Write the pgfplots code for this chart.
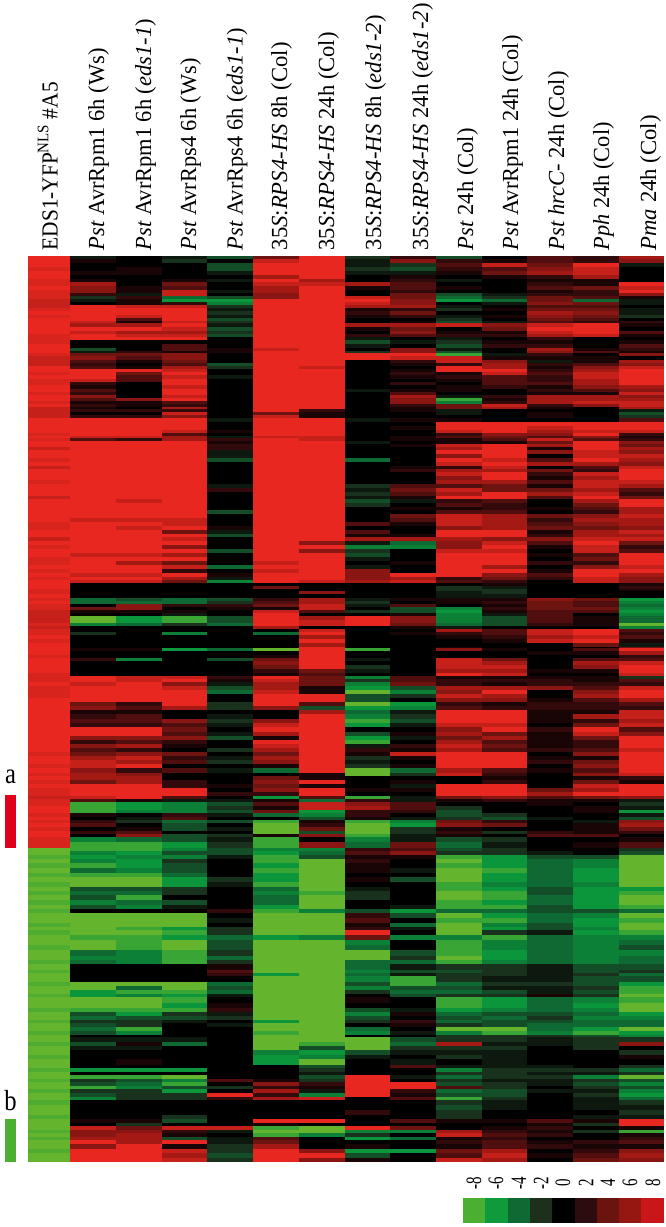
\documentclass[border=0pt]{standalone}
\usepackage{pgfplots}
\pgfplotsset{compat=1.18}
\usepackage{pgfplotstable}
\usepackage{fontspec}
\setmainfont{Liberation Serif}
\pgfplotstableread{
y a b c d e f g h i j k l m n
256 8 -1 0 -1 -3 4 8 -2 2 -3 0 3 2 6
259 8 1 0 -2 0 7 8 -1 5 2 1 3 2 5
263 8 0 0 0 -3 8 8 -1 -2 3 7 4 8 -1
267 7.5 0 1 0 -3 8 8 -2 -3 2 3 5 7 0
271 8 1 1 0 -1 8 8 -1 -1 1 4 6 7 0
275 8 0 0 0 0 6 8 0 1 0 1 2 6 0
279 7.5 1 0 1 -1 8 6 0 2 -1 0 1 1 0
282 7.5 6 0 4 0 7 7 6 3 0 0 2 1 8
286 8 5 1 3 0 6 8 1 3 1 0 3 4 7
290 7.5 5 1 7 -1 6 8 0 2 0 0 1 2 8
293 7.5 2 -1 7 0 5 8 0 4 -3 -1 2 2 5
296 7.5 -2 2 -4 -3 5 8 7 4 -4 -2 4 3 1
299 7 -1 1 -6 -6 8 8 8 5 -6 -4 4 -4 -1
302 7 0 1 2 -5 8 8 7 5 0 -1 5 4 -1
305 7 8 7 7 -2 8 8 6 6 -1 0 3 3 0
308 7.5 8 8 8 -1 8 8 1 2 -2 1 4 4 -1
311 8 8 8 8 -2 8 8 2 4 0 0 6 5 -1
315 7.5 8 7 8 -1 8 8 1 2 -1 1 5 4 -2
318 8 8 3 8 -3 8 8 0 0 -2 0 4 3 0
321 8 7 1 7 -2 8 8 0 1 -3 -1 3 2 2
323 8 6 6 8 -1 8 8 6 6 7 5 7 8 1
327 8 8 8 7 -3 8 8 1 4 0 4 8 8 0
331 8 7 6 6 -2 8 8 0 5 1 1 7 8 3
334 7.5 8 7 7 -3 8 8 2 3 2 2 6 7 1
337 7.5 8 8 8 0 8 8 -1 0 -1 0 2 0 0
340 7.5 0 0 0 0 8 8 -3 -1 -2 1 1 0 1
344 8 0 0 3 0 8 8 -1 0 -3 2 2 0 3
348 8 -3 0 3 1 7 8 0 5 -1 0 6 1 2
351 8 -1 2 1 1 8 8 -2 5 -3 0 5 3 1
353 7.5 4 4 5 0 8 8 8 8 -7 -1 2 0 5
356 7 5 3 5 0 8 8 8 7 7 1 1 1 0
360 7 3 1 4 0 8 8 0 2 7 5 -1 1 6
363 7 2 0 3 -3 8 8 0 1 2 6 2 3 5
366 8 3 1 6 -2 8 7 0 0 8 6 1 5 7
369 8 8 8 7 0 8 8 0 1 8 8 2 6 8
372 7.5 8 4 8 0 8 8 0 2 1 7 3 7 8
375 8 8 3 7 -1 8 8 0 1 2 3 2 7 8
379 7.5 7 3 8 0 8 8 0 0 1 3 2 6 8
382 7.5 2 0 8 0 8 8 0 2 0 3 3 6 8
385 8 1 0 7 0 8 8 0 0 1 2 1 5 6
389 8 3 0 8 0 8 8 -1 1 1 0 2 3 5
392 7.5 2 0 8 0 8 8 0 3 0 0 1 1 7
395 8 5 0 7 0 8 8 0 6 -1 2 6 6 5
398 8 3 5 8 0 8 8 0 5 -7 1 6 6 6
401 7.5 1 1 3 0 8 8 0 5 -5 2 6 7 7
404 8 2 1 2 0 8 8 0 2 4 7 2 5 7
407 7 1 0 6 0 8 8 0 1 4 6 1 0 6
409 7 2 2 2 0 8 2 0 1 -1 0 0 0 -1
412 7 0 0 7 0 4 1 0 0 -1 0 1 0 -3
415 7 2 2 5 0 7 1 0 0 0 0 1 0 -2
418 8 8 8 8 -1 8 8 -1 1 1 0 0 0 3
422 8 8 8 8 0 8 8 0 0 8 8 8 8 8
426 8 8 8 8 0 8 8 0 1 8 8 7 8 8
430 8 8 8 7 1 8 8 0 0 7 8 6 7 7
433 7.5 8 8 3 0 8 8 0 0 2 5 5 8 2
436 8 7 7 6 -1 7 7 0 1 3 4 3 5 1
438 7.5 3 2 6 2 8 7 0 1 1 3 7 3 2
441 8 8 8 8 1 8 8 -1 0 1 1 4 8 5
444 8 8 8 8 2 8 8 0 1 7 8 6 8 4
447 7 8 8 8 2 8 8 0 0 6 8 1 8 6
450 8 8 8 8 -1 8 8 0 0 8 8 5 7 5
454 8 8 8 8 -1 8 8 0 0 5 8 0 7 7
458 7.5 8 8 8 -3 8 8 -4 0 8 7 3 8 6
462 8 8 8 8 0 8 8 0 0 7 8 6 6 5
466 7 8 8 8 0 8 8 0 1 2 7 0 3 7
469 8 8 8 8 0 8 8 0 2 6 6 4 2 8
472 8 8 8 8 0 8 8 0 0 7 8 2 7 8
476 8 8 8 8 0 8 8 0 0 5 8 1 6 8
480 7.5 8 8 8 0 8 8 0 0 6 6 3 7 7
484 8 8 8 8 -1 8 8 -2 3 3 4 1 7 6
488 8 8 8 8 2 8 8 -1 4 7 4 4 6 3
492 8 8 8 8 0 8 8 -2 3 6 8 6 7 2
496 7 8 8 8 0 8 8 -1 1 8 8 3 8 4
499 8 8 7 8 0 8 8 -3 -1 2 3 0 6 8
503 8 8 8 8 0 8 8 -2 0 3 2 0 4 8
507 8 8 8 8 0 8 8 0 1 1 2 1 3 6
510 8 8 8 8 -3 8 8 0 0 3 3 0 2 6
514 8 8 8 8 0 8 8 0 4 7 6 4 5 7
518 8 7 7 7 0 8 8 0 3 7 6 2 6 6
522 7.5 8 8 7 0 8 8 3 1 7 6 3 5 6
526 7.5 8 7 8 1 8 8 0 0 5 6 4 4 5
530 8 8 8 4 -1 8 8 3 0 8 8 1 6 7
534 8 8 8 8 -3 8 8 1 1 8 8 2 6 6
537 7 8 8 7 0 8 8 6 6 6 5 5 7 7
541 8 8 8 8 0 8 5 -1 -4 5 7 3 8 4
545 7.5 8 8 5 0 8 8 -5 -5 5 8 1 7 2
549 8 8 8 8 -3 8 5 -2 0 7 7 0 7 3
553 8 7 7 6 0 8 8 -3 0 8 8 1 3 8
557 7.5 8 8 8 0 8 8 -1 0 8 8 0 4 8
561 7.5 8 6 4 0 7 8 0 1 8 8 2 2 8
565 8 8 8 7 -4 8 8 -1 0 8 6 0 5 7
569 7.5 8 8 2 0 7 8 5 0 8 8 1 8 8
573 8 7 7 8 1 8 8 5 8 8 5 3 8 6
577 7.5 8 8 6 -1 8 8 5 6 2 4 2 7 5
580 8 7 7 4 -5 8 7 6 7 3 2 0 7 5
583 8 0 0 0 0 0 0 0 0 0 1 0 0 1
586 8 0 0 0 0 4 0 0 0 -2 -1 0 0 2
589 7.5 0 0 0 0 0 0 0 0 -2 -2 0 0 1
591 7.5 0 0 0 0 0 5 0 0 -1 -2 0 0 0
594 8 0 0 0 0 0 0 0 0 -1 -1 0 0 0
598 7.5 -4 -3 -4 -3 2 6 -1 1 1 1 5 4 -6
601 8 -4 -4 -4 -2 3 6 -2 0 1 2 4 3 -5
604 7.5 0 5 2 2 4 7 -1 3 0 1 4 3 -4
607 7.5 4 5 0 1 1 7 0 -3 -5 2 4 4 -5
610 7 1 1 1 0 7 3 -2 -3 -6 1 3 3 -6
613 7 0 0 -1 0 8 0 0 1 -5 -1 3 0 -5
616 7 -8 -6 -7 -3 8 6 8 5 -5 -3 3 1 -4
620 7 -8 -6 -7 -3 8 7 8 5 -5 -3 3 1 -4
623 7.5 -5 -4 -2 -4 8 7 8 4 -4 -3 2 1 -8
626 7 0 0 0 0 6 0 0 1 -1 0 0 0 -5
629 7.5 0 0 0 0 0 7 0 0 6 3 7 8 3
632 7.5 -2 0 -5 0 -4 8 0 1 2 3 7 8 2
635 8 0 0 0 0 0 6 0 0 1 2 6 7 3
639 7.5 0 0 0 0 0 8 0 0 0 1 7 8 1
643 8 0 0 0 0 0 6 0 0 0 0 0 4 -1
647 8 0 0 0 0 0 8 0 0 1 0 0 0 4
648 8 1 1 -6 -4 -8 8 -7 0 5 1 0 3 8
651 8 0 0 0 0 0 8 0 0 0 0 1 1 6
655 7.5 0 0 0 0 1 8 0 0 0 0 0 0 2
658 8 2 -5 0 -3 4 8 -1 0 7 4 0 3 3
661 8 0 0 0 0 5 8 0 0 7 6 0 6 7
665 8 0 0 0 0 4 8 -2 0 7 7 0 5 8
669 8 0 0 0 0 2 4 -1 0 6 6 1 1 8
673 7.5 0 0 0 0 1 3 0 0 8 7 0 0 7
676 7.5 8 7 7 2 8 4 -5 3 1 1 1 1 -2
679 7.5 8 7 8 1 7 4 -2 3 2 2 2 1 3
682 8 7 8 5 -1 6 4 -5 4 2 1 2 2 2
686 7.5 8 8 7 -3 6 1 -6 -3 6 6 5 3 7
690 7.5 8 8 8 -4 7 1 -8 -5 5 8 0 5 8
694 7.5 8 8 8 0 8 8 -3 -2 7 6 0 6 8
698 8 8 8 8 0 8 8 -3 0 5 5 1 3 6
702 8 4 2 8 -2 8 3 -8 -6 2 1 2 2 3
706 8 5 3 6 -2 5 -3 -6 -5 3 2 2 2 2
710 8 1 1 0 0 0 6 -4 -1 8 8 1 1 7
714 8 2 3 0 -1 0 8 -5 -2 8 8 1 6 7
719 8 3 3 5 -2 5 8 -7 -3 8 8 1 2 6
723 8 2 2 3 -1 7 8 -6 -1 7 7 0 4 7
727 8 8 8 4 0 8 8 0 0 5 8 2 8 3
732 8 8 8 3 -1 6 8 -3 1 6 4 1 7 5
736 8 5 5 5 -3 1 8 -6 -1 4 6 1 4 8
740 8 2 3 2 0 8 8 -7 0 6 3 1 2 8
744 8 5 6 1 0 7 8 -1 2 7 4 1 2 8
748 8 3 2 0 -2 6 8 2 1 6 3 2 3 7
752 7.5 4 5 4 0 4 8 1 7 8 8 0 5 8
756 8 6 7 2 -1 6 8 -2 1 8 8 1 1 8
760 8 7 6 3 -2 5 8 -1 0 8 8 2 4 8
764 7.5 7 8 0 0 1 8 -2 1 8 8 0 5 8
768 8 5 2 3 -1 -4 8 -8 -4 6 3 1 3 8
773 7.5 6 5 0 0 0 1 -8 -2 7 2 0 5 7
776 8 6 6 0 0 4 1 0 0 0 1 0 1 2
780 7.5 4 6 2 0 5 8 0 1 0 2 0 4 1
784 8 8 8 2 1 4 1 0 -1 8 8 0 7 8
788 7.5 8 8 8 0 5 8 1 1 8 8 4 6 8
792 7.5 8 8 8 2 2 8 0 0 8 8 6 8 8
796 7 7 8 3 0 -6 3 -7 -1 4 5 3 4 5
799 7.5 3 1 -1 -1 1 -4 2 -1 1 2 1 1 -1
802 7.5 -7 -6 -5 -3 3 7 5 3 0 0 1 0 -2
806 8 -7 -6 -5 -2 1 7 6 3 -2 0 0 1 -1
810 8 -7 -5 -5 -3 4 -6 2 2 -3 0 0 1 -6
813 7.5 1 0 2 -1 -4 -5 2 0 -3 -2 0 0 -1
817 8 0 -1 3 0 0 -3 1 -1 -2 -3 -1 0 -3
820 7.5 2 -2 -4 -3 -7 1 -7 -5 4 2 0 -1 5
823 8 3 0 -3 0 -8 2 -8 -6 5 4 0 1 6
827 7.5 0 1 -3 -1 -8 4 -8 -2 1 0 0 1 4
831 8 2 3 0 0 -8 -3 -8 -2 2 -2 2 1 2
834 8 0 5 -3 -2 1 5 -7 -1 1 0 3 3 0
837 7.5 -5 -4 -3 -1 -7 0 -5 -1 -3 -2 0 0 1
842 7.5 -7 -7 -6 -2 -7 5 -4 4 -4 -1 0 1 3
847.5 -8 -7 -7 -5 -3 -5 -5 2 3 -3 -2 0 0 -2
851 -8 -5 -6 -3 -3 -6 -4 3 5 -2 -2 -1 0 -3
855 -7.5 -6 -5 -5 -1 -7 -3 1 1 -7 -6 -3 -3 -8
859 -8 -5 -6 -2 0 -7 -8 2 0 -8 -6 -4 -5 -8
863 -7.5 -7 -6 -3 0 -6 -8 1 0 -7 -6 -4 -5 -8
868 -8 -4 -5 -3 0 -7 -8 1 -1 -8 -7 -4 -6 -8
873 -7.5 -7 -7 -4 0 -6 -8 0 0 -8 -6 -4 -6 -8
877 -8 -8 -8 -6 -2 -6 -8 1 -3 -8 -6 -4 -6 -8
882 -7.5 -8 -8 -6 -1 -7 -8 0 0 -7 -5 -4 -5 -8
887 -8 -3 -3 -2 0 -4 -8 -1 0 -7 -6 -3 -6 -6
891 -7.5 -4 -4 -2 0 -5 -7 -2 0 -8 -7 -3 -6 -7
895 -8 -3 -7 0 0 -4 -8 -2 0 -8 -7 -4 -6 -8
900 -7.5 -5 -4 -3 0 -4 -8 0 0 -7 -6 -4 -6 -8
905 -8 -3 -5 -1 0 -6 -8 0 -1 -7 -7 -3 -6 -7
909 -7.5 0 0 0 2 -7 -5 -3 -6 -4 -4 -3 -3 -4
913 -8 -8 -8 -8 0 -8 -8 2 -3 -8 -6 -4 -5 -8
918 -8 -8 -8 -8 -1 -8 -8 3 0 -7 -7 -4 -6 -7
923 -7.5 -8 -8 -8 0 -8 -8 1 -4 -8 -5 -3 -6 -8
927 -8 -8 -7 -6 -2 -8 -8 2 -1 -8 -6 -3 -5 -8
930 -7.5 -8 -8 -7 -2 -8 -8 8 0 -8 -2 -1 -6 -7
935 -8 -7 -7 -6 -4 -6 -5 4 -5 -5 -7 -4 -5 -5
940 -8 -8 -7 -8 -3 -8 -8 -5 0 -7 -5 -4 -5 -4
945 -7.5 -8 -7 -8 -3 -8 -8 -4 0 -7 -5 -4 -5 -3
950 -8 -4 -5 -7 -2 -8 -8 -8 -3 -7 -6 -4 -5 -5
956 -8 -5 -5 -7 -4 -8 -8 -8 -2 -8 -6 -4 -5 -4
960 -7.5 -4 -5 -7 -2 -8 -8 -4 -4 -7 -5 -4 -5 -4
964 -8 0 0 0 1 -8 -8 -4 -1 -2 -2 -1 -3 -3
970 -7.5 0 0 0 3 -8 -8 -5 -3 -3 -2 -1 -3 -2
973 -8 0 0 0 2 -6 -8 -4 -1 -2 -2 -1 -2 -4
976 -8 0 0 0 0 -8 -8 -5 -7 -2 -1 -1 -3 -3
982 -7.5 -8 -8 -8 -4 -8 -8 -3 -7 -4 -2 -2 -3 -6
986 -8 -8 -4 -8 -3 -8 -8 -5 -3 -3 -1 -1 -2 -7
990 -8 -6 -7 -7 -4 -8 -8 -2 -4 -4 -3 -1 -3 -7
994 -7.5 -6 -5 -6 -1 -8 -8 0 -3 -2 -2 1 -2 -8
997 -8 -8 -8 -7 0 -8 -8 1 0 -7 -6 -4 -5 -7
1003 -8 -8 -8 -6 1 -8 -8 0 0 -7 -6 -4 -6 -8
1008 -7.5 -7 -7 -7 2 -8 -8 -3 -1 -6 -5 -4 -5 -8
1012 -8 -3 -6 -2 -1 -8 -8 -5 1 -4 -3 -3 -4 -6
1016 -8 -4 -3 -3 -2 -8 -8 -3 0 -3 -4 -2 -5 -5
1020 -7.5 -2 -2 -1 0 -6 -8 -2 2 -4 -3 -3 -4 -4
1023 -8 -3 -2 0 -1 -8 -8 0 1 -2 -3 -4 -4 -4
1027 -8 -4 -7 0 0 -8 -8 -4 0 -8 -8 -4 -6 -8
1031 -7.5 -3 -5 0 0 -7 -8 -5 -1 -5 -7 -5 -7 -6
1035 -8 0 0 0 0 -8 -8 0 0 -2 -2 -2 -3 -5
1037 -8 -1 -1 -1 0 -8 -8 -8 -3 -2 -2 -1 -2 -2
1042 -7.5 -3 1 -4 0 -8 -7 -8 -4 6 -1 -1 -2 5
1046 -8 -1 -1 0 0 -8 -3 -8 -2 -2 -2 0 -2 0
1050 -8 0 0 0 0 -5 -6 -3 -1 -1 -1 0 0 -2
1055 -7.5 0 0 0 0 -6 -5 -1 0 -2 -1 0 0 1
1059 -8 0 1 0 0 -6 -8 0 -1 0 -1 0 0 0
1065 -8 0 0 0 0 0 -3 0 3 -1 -1 -1 0 -2
1068 -7.5 -6 -6 -6 0 0 -2 0 0 -5 -2 -2 -2 -4
1072 -8 0 0 0 0 0 -1 0 0 -2 -2 -1 -1 -2
1075 -8 -7 -7 -8 0 0 -3 8 -1 -4 -2 -2 -5 -8
1079 -7.5 -2 -3 -5 3 1 -2 8 0 -2 -1 -1 -2 -3
1082 -8 -3 -4 -7 0 5 2 8 8 -3 -2 -1 -3 -5
1086 -8 -7 -5 -3 -2 2 1 8 8 3 -2 0 -2 -3
1089 -7.5 -2 -2 -6 0 6 -1 8 2 -4 -3 -1 -1 -5
1093 -8 -3 -2 -2 8 2 -5 8 1 -3 -3 0 -2 -6
1097 -8 -5 -2 -2 2 6 7 0 3 -7 -2 0 -1 -4
1100 -7.5 0 0 0 0 0 0 0 0 -2 -1 0 -1 -2
1105 -8 0 0 0 0 0 0 0 0 -3 -1 0 -1 -1
1110 -8 0 0 0 0 0 0 2 0 -2 0 0 0 -2
1115 -7.5 0 0 -2 0 0 0 0 0 -2 0 0 -1 -1
1119 -8 1 1 -3 0 8 8 0 3 1 1 3 1 8
1123 -8 0 -2 0 0 1 0 0 0 0 0 1 -2 8
1126 -8 7 4 7 7 -7 -8 8 4 0 1 2 0 1
1130 -7.5 5 5 2 -1 -8 -8 -5 -5 6 2 1 -2 -7
1133 -8 5 6 1 0 -7 -5 -2 0 7 3 2 0 1
1137 -7.5 6 6 -3 -1 3 0 -6 -4 1 2 0 0 2
1140 -8 8 6 8 -1 4 0 0 0 2 3 1 2 3
1144 -8 5 8 1 -2 6 0 1 0 1 3 2 1 1
1149 -7.5 8 8 7 -2 8 5 -6 -6 4 6 0 2 5
1153 -8 8 8 6 -3 8 8 -3 0 3 7 1 3 6
1158 -8 8 8 7 -2 8 5 1 0 7 6 0 4 5
1162.3 -8 8 8 7 -2 8 5 1 0 7 6 0 4 5
}\hm
\newcommand\col[3]{\addplot[mesh,no markers,shader=flat corner,line cap=butt,line width=#2pt,point meta=explicit] table[x expr=#1,y=y,meta=#3]{\hm};}
% baseline x, wanted length, text: each label is stretched along its line to the reference's length
\newsavebox\labbox
\newcommand\fitlab[2]{\sbox\labbox{\fontsize{23}{23}\selectfont #2}\pgfmathsetmacro\labs{#1/\the\wd\labbox}\scalebox{\labs}[1]{\usebox\labbox}}
\newcommand\lab[3]{\node[rotate=90,anchor=base west,inner sep=0pt] at (axis cs:#1,250.5) {\fitlab{#2}{#3}};}
\newcommand\leglab[2]{\node[rotate=90] at (axis cs:#1,1183) {\scalebox{.68}[1]{\fontsize{22}{22}\selectfont #2}};}
\definecolor{barred}{RGB}{225,0,25}
\definecolor{bargreen}{RGB}{75,175,50}
\begin{document}
\begin{tikzpicture}
\useasboundingbox (0,0) rectangle (666pt,1227pt);
\begin{axis}[at={(0,0)},anchor=south west,scale only axis,width=666pt,height=1227pt,
 xmin=0,xmax=666,ymin=0,ymax=1227,y dir=reverse,hide axis,clip=false,
 point meta min=-8,point meta max=8,
 colormap={hm}{rgb255=(100,180,45) rgb255=(12,150,60) rgb255=(15,105,50) rgb255=(25,50,30) rgb255=(0,0,0) rgb255=(50,10,12) rgb255=(110,20,16) rgb255=(165,25,20) rgb255=(232,40,32)}]
\col{49.2}{42.6}{a}
\col{93.2}{45.7}{b}
\col{138.9}{45.7}{c}
\col{184.6}{45.7}{d}
\col{230.3}{45.7}{e}
\col{276}{45.7}{f}
\col{321.7}{45.7}{g}
\col{367.4}{45.7}{h}
\col{413.1}{45.7}{i}
\col{458.8}{45.7}{j}
\col{504.5}{45.7}{k}
\col{550.2}{45.7}{l}
\col{595.9}{45.7}{m}
\col{641.6}{45.7}{n}
% side bars
\addplot[barred,line width=11pt,line cap=butt] coordinates {(10.5,795) (10.5,847.5)};
\addplot[bargreen,line width=11pt,line cap=butt] coordinates {(10.5,1119) (10.5,1162.3)};
% legend
\addplot[color={rgb,255:red,75;green,175;blue,50},line width=25.5pt,line cap=butt] coordinates {(463,1210.5) (485.3,1210.5)};
\addplot[color={rgb,255:red,15;green,155;blue,60},line width=25.5pt,line cap=butt] coordinates {(485.3,1210.5) (507.6,1210.5)};
\addplot[color={rgb,255:red,15;green,105;blue,50},line width=25.5pt,line cap=butt] coordinates {(507.6,1210.5) (529.9,1210.5)};
\addplot[color={rgb,255:red,28;green,48;blue,28},line width=25.5pt,line cap=butt] coordinates {(529.9,1210.5) (552.2,1210.5)};
\addplot[color=black,line width=25.5pt,line cap=butt] coordinates {(552.2,1210.5) (574.5,1210.5)};
\addplot[color={rgb,255:red,45;green,12;blue,15},line width=25.5pt,line cap=butt] coordinates {(574.5,1210.5) (596.8,1210.5)};
\addplot[color={rgb,255:red,105;green,20;blue,15},line width=25.5pt,line cap=butt] coordinates {(596.8,1210.5) (619.1,1210.5)};
\addplot[color={rgb,255:red,150;green,22;blue,18},line width=25.5pt,line cap=butt] coordinates {(619.1,1210.5) (641.4,1210.5)};
\addplot[color={rgb,255:red,200;green,22;blue,25},line width=25.5pt,line cap=butt] coordinates {(641.4,1210.5) (664,1210.5)};
% column labels
\lab{57.5}{168}{EDS1-YFP\textsuperscript{NLS} \#A5}
\lab{104}{202}{\textit{Pst} AvrRpm1 6h (Ws)}
\lab{151}{231}{\textit{Pst} AvrRpm1 6h (\textit{eds1-1})}
\lab{196}{192}{\textit{Pst} AvrRps4 6h (Ws)}
\lab{242.5}{222}{\textit{Pst} AvrRps4 6h (\textit{eds1-1})}
\lab{287}{208}{35\textit{S}:\textit{RPS4-HS} 8h (Col)}
\lab{334}{218}{35\textit{S}:\textit{RPS4-HS} 24h (Col)}
\lab{381}{235}{35\textit{S}:\textit{RPS4-HS} 8h (\textit{eds1-2})}
\lab{428}{247}{35\textit{S}:\textit{RPS4-HS} 24h (\textit{eds1-2})}
\lab{473}{122}{\textit{Pst} 24h (Col)}
\lab{518}{215}{\textit{Pst} AvrRpm1 24h (Col)}
\lab{564}{179}{\textit{Pst hrcC}- 24h (Col)}
\lab{609}{128}{\textit{Pph} 24h (Col)}
\lab{656}{135}{\textit{Pma} 24h (Col)}
% letters
\node at (axis cs:10.5,777) {\scalebox{.85}[1]{\fontsize{29}{29}\selectfont a}};
\node at (axis cs:10.5,1101) {\scalebox{.85}[1]{\fontsize{29}{29}\selectfont b}};
% legend labels
\leglab{474}{-8}
\leglab{496}{-6}
\leglab{519}{-4}
\leglab{541}{-2}
\leglab{563}{0}
\leglab{586}{2}
\leglab{608}{4}
\leglab{630}{6}
\leglab{653}{8}
\end{axis}
\end{tikzpicture}
\end{document}
